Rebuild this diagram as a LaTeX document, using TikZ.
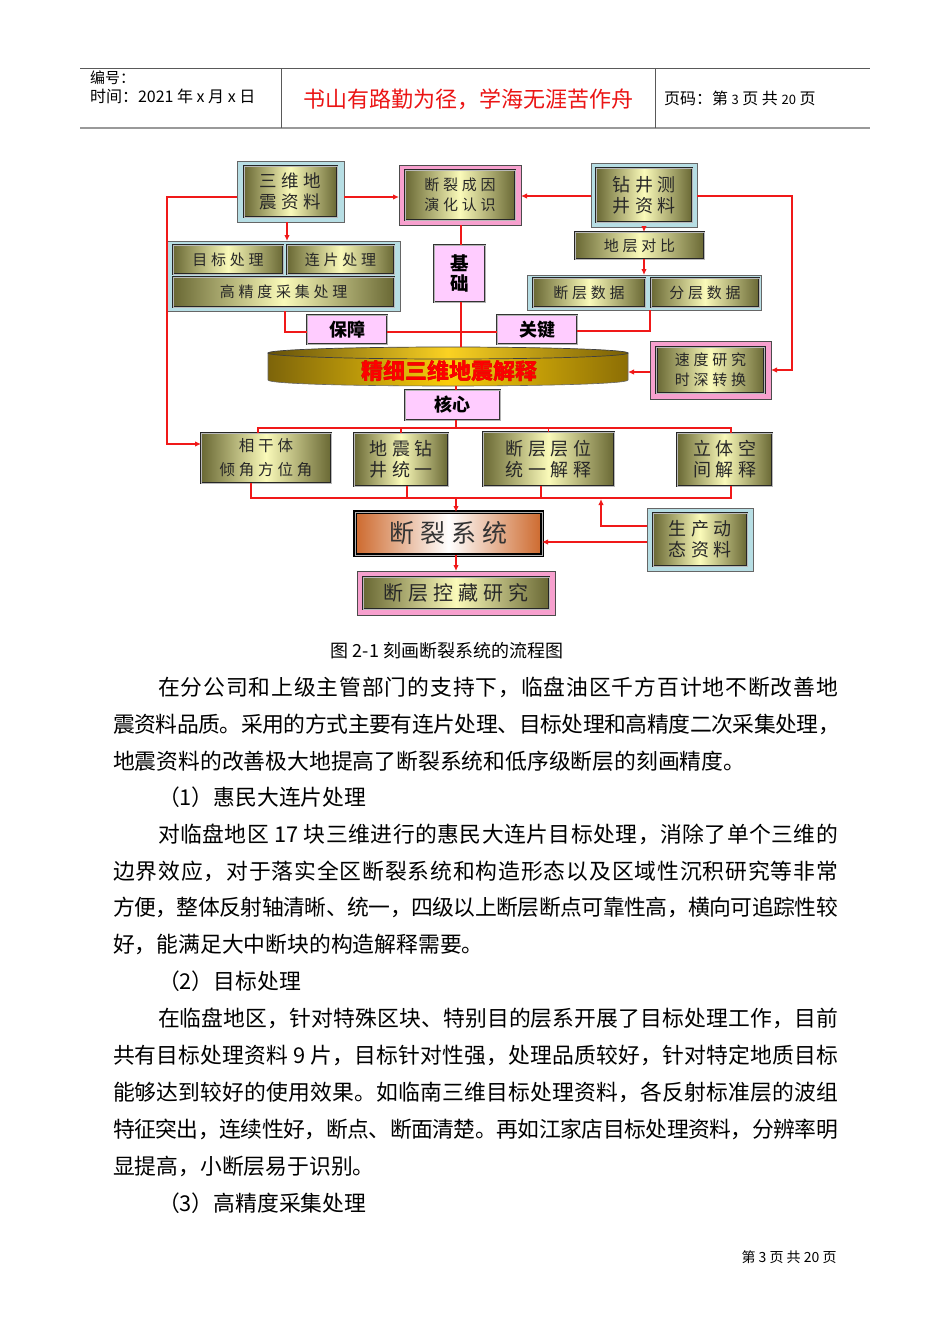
\documentclass[tikz,border=0pt]{standalone}
\usepackage{fontspec}
\setmainfont{Noto Sans CJK SC}
\newfontfamily\bxfont[LetterSpace=25]{Noto Sans CJK SC}
\newcommand\bxf{\XeTeXinterchartokenstate=0 \bxfont}
\usetikzlibrary{arrows.meta}
\XeTeXinterchartokenstate=1
\newXeTeXintercharclass\CJKcl
\newcount\cjkc
\cjkc="4E00
\loop
  \XeTeXcharclass\cjkc=\CJKcl
  \advance\cjkc by 1
\ifnum\cjkc<"A000
\repeat
\cjkc="3000
\loop
  \XeTeXcharclass\cjkc=\CJKcl
  \advance\cjkc by 1
\ifnum\cjkc<"3040
\repeat
\cjkc="FF00
\loop
  \XeTeXcharclass\cjkc=\CJKcl
  \advance\cjkc by 1
\ifnum\cjkc<"FFF0
\repeat
\XeTeXinterchartoks\CJKcl\CJKcl={\hskip0pt plus 0.1em minus 0.04em\relax}
\definecolor{frameblue}{RGB}{183,222,228}
\definecolor{framepink}{RGB}{247,160,206}
\definecolor{labpink}{RGB}{255,204,255}
\definecolor{oliveD}{RGB}{105,104,52}
\definecolor{oliveL}{RGB}{250,250,185}
\definecolor{txt}{RGB}{40,40,40}
\definecolor{linered}{RGB}{240,25,25}
\definecolor{goldD}{RGB}{125,100,10}
\definecolor{goldL}{RGB}{250,205,10}
\definecolor{goldR}{RGB}{140,110,5}
\definecolor{dlO}{RGB}{205,105,45}
\definecolor{mottored}{RGB}{235,20,20}
\definecolor{darkred}{RGB}{150,10,0}
\tikzset{
  every node/.style={inner sep=0pt, outer sep=0pt},
  bluef/.style={draw=gray!80!black, line width=0.8pt, fill=frameblue},
  pinkf/.style={draw=gray!60!black, line width=0.8pt, fill=framepink},
  olive/.style={draw=black!85, line width=0.7pt, double=gray!55, double distance=0.7pt,
    left color=oliveD, right color=oliveD, middle color=oliveL, text=txt, align=center},
  lab/.style={draw=black!80, line width=0.7pt, double=gray!60, double distance=0.7pt,
    fill=labpink, font=\bfseries\fontsize{18}{21}\selectfont, text=black, align=center},
  rl/.style={draw=linered, line width=1.8pt},
  arr/.style={rl, -{Latex[length=6pt,width=5.5pt]}},
  bodyl/.style={anchor=west, font=\fontsize{21.8}{26}\selectfont},
  fA/.style={font=\bxf\fontsize{17.5}{21}\selectfont},
  fB/.style={font=\bxf\fontsize{15}{20}\selectfont},
  fC/.style={font=\bxf\fontsize{18}{21}\selectfont},
}
\begin{document}
\begin{tikzpicture}[x=1pt,y=-1pt]
\fill[white] (0,0) rectangle (950,1344);
\useasboundingbox (0,0) rectangle (950,1344);
% header
\draw[gray!70!black, line width=0.9pt] (80,68) -- (870,68);
\draw[gray!80, line width=2pt] (80,128) -- (870,128);
\draw[gray!70!black, line width=0.9pt] (281,68) -- (281,128);
\draw[gray!70!black, line width=0.9pt] (655,68) -- (655,128);
\node[anchor=west, font=\fontsize{15}{18}\selectfont] (h1) at (90,78) {编号：};
\node[anchor=west, font=\fontsize{16}{19}\selectfont] (h2) at (90,96) {时间：2021 年 x 月 x 日};
\node[font=\fontsize{22}{26}\selectfont, text=mottored] (h3) at (468,99) {书山有路勤为径，学海无涯苦作舟};
\node[anchor=west, font=\fontsize{16}{19}\selectfont] (h4) at (664,98) {页码：第 {\fontsize{13}{15}\selectfont 3} 页 共 {\fontsize{13}{15}\selectfont 20} 页};

% ---------- diagram boxes ----------
\node[bluef, minimum width=107, minimum height=61] (sw-o) at (290.5,191.5) {};
\node[olive, fA, minimum width=93, minimum height=51] (sw) at (290.5,191.5) {三维地\\震资料};
\node[pinkf, minimum width=122, minimum height=60] (dl-o) at (460,195) {};
\node[olive, fB, minimum width=110, minimum height=50] (dl) at (460,195) {断裂成因\\演化认识};
\node[bluef, minimum width=106, minimum height=64] (zj-o) at (644,195) {};
\node[olive, fC, minimum width=96, minimum height=54] (zj) at (644,195) {钻井测\\井资料};
\node[olive, fB, minimum width=129, minimum height=27] (dc) at (639.5,245.5) {地层对比};
\node[bluef, minimum width=234, minimum height=35] (rg) at (644,292.5) {};
\node[olive, fB, minimum width=112, minimum height=29] (dcs) at (589,292.5) {断层数据};
\node[olive, fB, minimum width=108, minimum height=29] (fcs) at (705,292.5) {分层数据};
\node[bluef, minimum width=233, minimum height=70] (lg) at (283.5,276) {};
\node[olive, fB, minimum width=110, minimum height=29] (mb) at (228,259.5) {目标处理};
\node[olive, fB, minimum width=107, minimum height=29] (lp) at (340.5,259.5) {连片处理};
\node[olive, fB, minimum width=221, minimum height=30] (gj2) at (283.5,292) {高精度采集处理};
\node[lab, minimum width=51, minimum height=57, font=\bfseries\fontsize{18.5}{20}\selectfont] (jc) at (459.5,273.5) {基\\础};
\node[lab, minimum width=80, minimum height=29] (bz) at (347,329.5) {保障};
\node[lab, minimum width=80, minimum height=29] (gj) at (537,329.5) {关键};
% cylinder
\path[left color=goldD, right color=goldR, middle color=goldL, draw=black!60, line width=0.6pt]
  (268,353) -- (268,380) .. controls (268,388) and (628,388) .. (628,380) -- (628,353) -- cycle;
\path[left color=goldD!80!black, right color=goldR!85!black, middle color=goldL!90!white, draw=black!75, line width=0.7pt]
  (448,353) ellipse [x radius=180pt, y radius=6pt];
\node[minimum width=360, minimum height=39] (cyl) at (448,366.5) {};
\node[font=\bfseries\fontsize{22}{24}\selectfont, text=darkred] (cylsh) at (449.6,371.6) {精细三维地震解释};
\node[font=\bfseries\fontsize{22}{24}\selectfont, text=red] (cylt) at (449,371) {精细三维地震解释};
\node[pinkf, minimum width=121, minimum height=58] (sd-o) at (710.5,370) {};
\node[olive, fB, minimum width=108, minimum height=46] (sd) at (710.5,370) {速度研究\\时深转换};
\node[lab, minimum width=95, minimum height=30] (hx) at (452.5,405) {核心};
\node[olive, font=\bxf\fontsize{15.5}{24}\selectfont, minimum width=130, minimum height=50] (xg) at (266,458) {相干体\\倾角方位角};
\node[olive, fC, minimum width=94, minimum height=53] (dz) at (401,459.5) {地震钻\\井统一};
\node[olive, fC, minimum width=131, minimum height=54] (dcw) at (548.5,459) {断层层位\\统一解释};
\node[olive, fC, minimum width=95, minimum height=53] (lt) at (724.5,459.5) {立体空\\间解释};
\node[draw=black, line width=1.4pt, double=gray!60, double distance=0.7pt,
  left color=dlO, right color=dlO, middle color=white, text=black!80,
  font=\bxf\fontsize{25}{28}\selectfont, minimum width=187, minimum height=43] (dlxt) at (448.5,533.5) {断裂系统};
\node[bluef, minimum width=106, minimum height=63] (sc-o) at (700,539.5) {};
\node[olive, fC, minimum width=94, minimum height=53] (sc) at (700,539.5) {生产动\\态资料};
\node[pinkf, minimum width=198, minimum height=44] (kc-o) at (456,593) {};
\node[olive, font=\bxf\fontsize{20}{22}\selectfont, minimum width=186, minimum height=32] (kc) at (456,593) {断层控藏研究};

% ---------- connectors ----------
\coordinate (c1) at ([yshift=-5.5pt]sw-o.west);
\coordinate (c2) at ([yshift=-5.5pt]sw-o.east);
\coordinate (c3) at ([yshift=-1pt]zj-o.west);
\coordinate (c4) at ([yshift=-1pt]zj-o.east);
\coordinate (Lc) at (167,444);
\coordinate (Rc) at (792,370);
\draw[arr] (c2) -- (c2 -| dl-o.west);
\draw[arr] (c3) -- (c3 -| dl-o.east);
\draw[arr] (c1) -| (Lc) -- (Lc -| xg.west);
\draw[arr] (c4) -| (Rc) -- (Rc -| sd-o.east);
\coordinate (d1) at ([xshift=-3.5pt]sw-o.south);
\draw[arr] (d1) -- (d1 |- lg.north);
\draw[arr] (zj-o.south) -- (zj-o.south |- dc.north);
\draw[arr] (zj-o.south |- dc.south) -- (zj-o.south |- rg.north);
\coordinate (g1) at ([xshift=1pt]dl-o.south);
\draw[rl] (g1) -- (g1 |- jc.north);
\draw[rl] (g1 |- jc.south) -- (g1 |- cyl.north);
\coordinate (hh) at ([xshift=1.5pt]lg.south);
\draw[rl] (hh) |- ([yshift=-2.5pt]bz.west);
\draw[rl] ([yshift=-2.5pt]bz.east) -- ([yshift=-2.5pt]gj.west);
\coordinate (j1) at ([xshift=6pt]rg.south);
\draw[rl] (j1) |- ([yshift=-1.5pt]gj.east);
\coordinate (l1) at ([yshift=-2pt]sd-o.west);
\draw[arr] (l1) -- (l1 -| cyl.east);
\coordinate (m1) at ([xshift=8pt]cyl.south);
\draw[rl] (m1) -- (m1 |- hx.north);
\coordinate (busL) at (258,428);
\coordinate (busR) at (731,428);
\draw[rl] (m1 |- hx.south) -- (m1 |- busL);
\draw[rl] (busL |- xg.north) -- (busL) -- (busR) -- (busR |- lt.north);
\draw[rl] (dz.north) -- (dz.north |- busL);
\draw[rl] (dcw.north) -- (dcw.north |- busL);
\coordinate (bbL) at (251,498);
\coordinate (bbR) at (731,498);
\draw[rl] (bbL |- xg.south) -- (bbL) -- (bbR) -- (bbR |- lt.south);
\coordinate (r2) at ([xshift=6pt]dz.south);
\draw[rl] (r2) -- (r2 |- bbL);
\coordinate (r3) at ([xshift=-7.5pt]dcw.south);
\draw[rl] (r3) -- (r3 |- bbL);
\draw[arr] (m1 |- bbL) -- (m1 |- dlxt.north);
\draw[arr] (m1 |- dlxt.south) -- (m1 |- kc-o.north);
\coordinate (q1) at ([yshift=13.5pt]sc-o.west);
\coordinate (qT) at (601,499);
\draw[arr] (q1) -| (qT);
\coordinate (r1) at ([yshift=-2.5pt]sc-o.west);
\draw[arr] (r1) -- (r1 -| dlxt.east);

% ---------- caption and body ----------
\node[font=\fontsize{18}{21}\selectfont] (cap) at (447,651) {图 2-1 刻画断裂系统的流程图};
\node[bodyl] (t1) at (158,687) {\makebox[680pt][s]{在分公司和上级主管部门的支持下，临盘油区千方百计地不断改善地}};
\node[bodyl] (t2) at (113,724) {\makebox[727pt][s]{震资料品质。采用的方式主要有连片处理、目标处理和高精度二次采集处理，}};
\node[bodyl] (t3) at (113,761) {地震资料的改善极大地提高了断裂系统和低序级断层的刻画精度。};
\node[bodyl] (t4) at (158,797) {（1）惠民大连片处理};
\node[bodyl] (t5) at (158,834) {\makebox[680pt][s]{对临盘地区 17 块三维进行的惠民大连片目标处理，消除了单个三维的}};
\node[bodyl] (t6) at (113,871) {\makebox[725pt][s]{边界效应，对于落实全区断裂系统和构造形态以及区域性沉积研究等非常}};
\node[bodyl] (t7) at (113,907) {\makebox[725pt][s]{方便，整体反射轴清晰、统一，四级以上断层断点可靠性高，横向可追踪性较}};
\node[bodyl] (t8) at (113,944) {好，能满足大中断块的构造解释需要。};
\node[bodyl] (t9) at (158,981) {（2）目标处理};
\node[bodyl] (t10) at (158,1018) {\makebox[680pt][s]{在临盘地区，针对特殊区块、特别目的层系开展了目标处理工作，目前}};
\node[bodyl] (t11) at (113,1055) {\makebox[725pt][s]{共有目标处理资料 9 片，目标针对性强，处理品质较好，针对特定地质目标}};
\node[bodyl] (t12) at (113,1092) {\makebox[725pt][s]{能够达到较好的使用效果。如临南三维目标处理资料，各反射标准层的波组}};
\node[bodyl] (t13) at (113,1129) {\makebox[725pt][s]{特征突出，连续性好，断点、断面清楚。再如江家店目标处理资料，分辨率明}};
\node[bodyl] (t14) at (113,1166) {显提高，小断层易于识别。};
\node[bodyl] (t15) at (158,1203) {（3）高精度采集处理};
\node[font=\fontsize{14}{16}\selectfont] (ft) at (789,1257) {第 3 页 共 20 页};
\end{tikzpicture}
\end{document}
